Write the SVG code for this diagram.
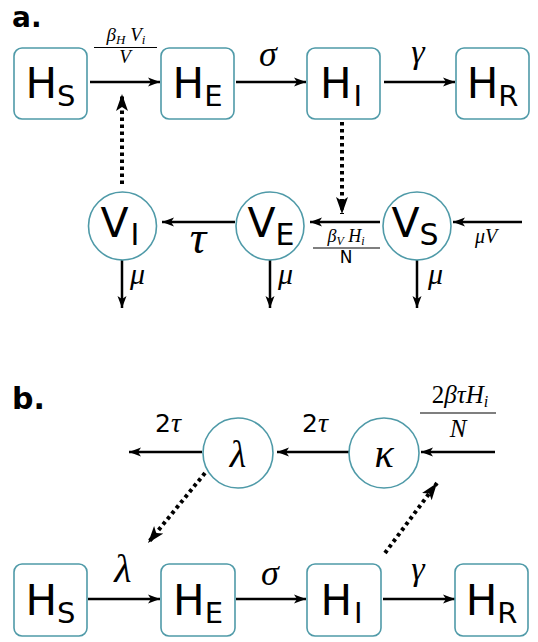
<svg xmlns="http://www.w3.org/2000/svg" width="538" height="642" viewBox="0 0 538 642">
<defs>
<style>
.box{fill:#fff;stroke:#4f9aa8;stroke-width:1.6}
.node{font-family:"DejaVu Sans",sans-serif;fill:#000}
.math{font-family:"Liberation Serif",serif;font-style:italic;fill:#000}
.sans{font-family:"DejaVu Sans",sans-serif;fill:#000}
.arr{stroke:#000;stroke-width:2.5;fill:none;marker-end:url(#ah)}
.dot{stroke:#000;stroke-width:4;fill:none;stroke-dasharray:3.5 3.5;marker-end:url(#dh)}
.frac{stroke:#000;stroke-width:1.2}
.lbl{font-family:"DejaVu Sans",sans-serif;font-weight:bold;fill:#000}
</style>
<marker id="ah" markerUnits="userSpaceOnUse" markerWidth="13" markerHeight="10" refX="12" refY="5" orient="auto">
<path d="M0,0.5 L12,5 L0,9.5 L3,5 z" fill="#000"/>
</marker>
<marker id="dh" markerUnits="userSpaceOnUse" markerWidth="18" markerHeight="13" refX="17" refY="6.5" orient="auto">
<path d="M0,0.5 L17,6.5 L0,12.5 L4,6.5 z" fill="#000"/>
</marker>
</defs>
<rect width="538" height="642" fill="#fff"/>

<text class="lbl" x="12" y="27" font-size="28">a.</text>
<text class="lbl" x="12" y="409" font-size="30">b.</text>

<g id="connectors">
<line class="arr" x1="90" y1="82" x2="160" y2="82"/>
<line class="arr" x1="236" y1="82" x2="306" y2="82"/>
<line class="arr" x1="384" y1="82" x2="455" y2="82"/>
<line class="dot" x1="122" y1="184" x2="122" y2="94"/>
<line class="dot" x1="342" y1="122" x2="342" y2="214"/>
<line class="arr" x1="522" y1="222" x2="453" y2="222"/>
<line class="arr" x1="380" y1="222" x2="310" y2="222"/>
<line class="arr" x1="235" y1="222" x2="162" y2="222"/>
<line class="arr" x1="122" y1="260" x2="122" y2="308"/>
<line class="arr" x1="270" y1="260" x2="270" y2="308"/>
<line class="arr" x1="417" y1="260" x2="417" y2="308"/>
<line class="arr" x1="495" y1="452" x2="421" y2="452"/>
<line class="arr" x1="349" y1="452" x2="277" y2="452"/>
<line class="arr" x1="202" y1="452" x2="129" y2="452"/>
<line class="dot" x1="205" y1="473" x2="148" y2="543"/>
<line class="dot" x1="385" y1="553" x2="437" y2="483"/>
<line class="arr" x1="88" y1="599" x2="160" y2="599"/>
<line class="arr" x1="236" y1="599" x2="306" y2="599"/>
<line class="arr" x1="383" y1="599" x2="455" y2="599"/>
</g>

<g id="labels">
<text class="math" x="126" y="41" font-size="19" text-anchor="middle">β<tspan font-size="13" dy="3">H</tspan><tspan dy="-3"> V</tspan><tspan font-size="13" dy="3">i</tspan></text>
<line class="frac" x1="94" y1="47.5" x2="157" y2="47.5"/>
<text class="math" x="125" y="63" font-size="19" text-anchor="middle">V</text>
<text class="math" x="268" y="66" font-size="36" text-anchor="middle">σ</text>
<text class="math" x="418" y="63" font-size="34" text-anchor="middle">γ</text>
<text class="math" x="198" y="253" font-size="46" text-anchor="middle">τ</text>
<text class="math" x="346" y="242" font-size="18" text-anchor="middle">β<tspan font-size="12" dy="3">V</tspan><tspan dy="-3"> H</tspan><tspan font-size="12" dy="3">i</tspan></text>
<line class="frac" x1="313" y1="248" x2="380" y2="248"/>
<text class="sans" x="346" y="263" font-size="17" text-anchor="middle">N</text>
<text class="math" x="475" y="243" font-size="20">μV</text>
<text class="math" x="130" y="284" font-size="30">μ</text>
<text class="math" x="278" y="284" font-size="30">μ</text>
<text class="math" x="428" y="284" font-size="30">μ</text>
<text x="168" y="432" font-size="28" text-anchor="middle"><tspan class="sans" font-size="25">2</tspan><tspan class="math">τ</tspan></text>
<text x="315" y="432" font-size="28" text-anchor="middle"><tspan class="sans" font-size="25">2</tspan><tspan class="math">τ</tspan></text>
<text x="460" y="403" font-size="25" text-anchor="middle"><tspan class="math" style="font-style:normal">2</tspan><tspan class="math">βτH</tspan><tspan class="math" font-size="16" dy="4">i</tspan></text>
<line class="frac" x1="420" y1="413" x2="496" y2="413"/>
<text class="math" x="458" y="437" font-size="25" text-anchor="middle">N</text>
<text class="math" x="123" y="582" font-size="40" text-anchor="middle">λ</text>
<text class="math" x="270" y="585" font-size="36" text-anchor="middle">σ</text>
<text class="math" x="418" y="580" font-size="34" text-anchor="middle">γ</text>
</g>

<g id="HS_a"><rect class="box" x="14" y="48" width="73" height="71" rx="8"/><text class="node" x="50.5" y="98" font-size="42" text-anchor="middle">H<tspan font-size="29" dy="8">S</tspan></text></g>
<g id="HE_a"><rect class="box" x="161" y="48" width="73" height="71" rx="8"/><text class="node" x="197.5" y="98" font-size="42" text-anchor="middle">H<tspan font-size="29" dy="8">E</tspan></text></g>
<g id="HI_a"><rect class="box" x="307" y="48" width="73" height="71" rx="8"/><text class="node" x="341" y="98" font-size="42" text-anchor="middle">H<tspan font-size="29" dy="8" dx="2">I</tspan></text></g>
<g id="HR_a"><rect class="box" x="456" y="48" width="73" height="71" rx="8"/><text class="node" x="492.5" y="98" font-size="42" text-anchor="middle">H<tspan font-size="29" dy="8">R</tspan></text></g>

<g id="VI"><circle class="box" cx="122.5" cy="226" r="34"/><text class="node" x="120" y="237" font-size="41" text-anchor="middle">V<tspan font-size="30" dy="8" dx="2">I</tspan></text></g>
<g id="VE"><circle class="box" cx="270" cy="226" r="34"/><text class="node" x="271" y="237" font-size="41" text-anchor="middle">V<tspan font-size="30" dy="8">E</tspan></text></g>
<g id="VS"><circle class="box" cx="417" cy="226" r="34"/><text class="node" x="415" y="237" font-size="41" text-anchor="middle">V<tspan font-size="30" dy="8">S</tspan></text></g>

<g id="lambda"><circle class="box" cx="238" cy="453" r="35"/><text class="math" x="238" y="467" font-size="38" text-anchor="middle">λ</text></g>
<g id="kappa"><circle class="box" cx="384" cy="453" r="35"/><text class="math" x="384" y="467" font-size="40" text-anchor="middle">κ</text></g>

<g id="HS_b"><rect class="box" x="14" y="564" width="73" height="72" rx="8"/><text class="node" x="50.5" y="615" font-size="42" text-anchor="middle">H<tspan font-size="29" dy="8">S</tspan></text></g>
<g id="HE_b"><rect class="box" x="161" y="564" width="74" height="72" rx="8"/><text class="node" x="198" y="615" font-size="42" text-anchor="middle">H<tspan font-size="29" dy="8">E</tspan></text></g>
<g id="HI_b"><rect class="box" x="307" y="564" width="74" height="72" rx="8"/><text class="node" x="341.5" y="615" font-size="42" text-anchor="middle">H<tspan font-size="29" dy="8" dx="2">I</tspan></text></g>
<g id="HR_b"><rect class="box" x="455" y="564" width="73" height="72" rx="8"/><text class="node" x="491.5" y="615" font-size="42" text-anchor="middle">H<tspan font-size="29" dy="8">R</tspan></text></g>
</svg>
